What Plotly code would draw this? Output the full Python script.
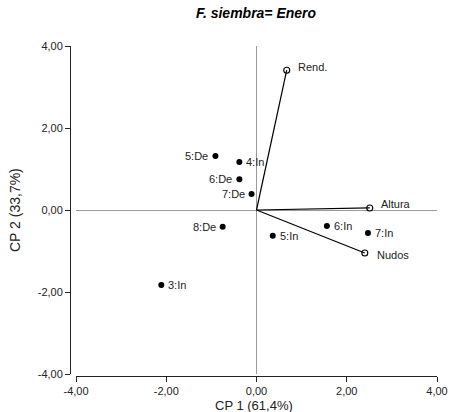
import plotly.graph_objects as go

# Observation scores (CP 1, CP 2)
obs_labels = ["3:In", "4:In", "5:In", "6:In", "7:In", "5:De", "6:De", "7:De", "8:De"]
obs_cp1 = [-2.11, -0.38, 0.36, 1.56, 2.47, -0.91, -0.38, -0.11, -0.75]
obs_cp2 = [-1.83, 1.17, -0.63, -0.39, -0.56, 1.32, 0.75, 0.39, -0.41]
obs_side = ["right", "right", "right", "right", "right", "left", "left", "left", "left"]

# Variable loadings (vector endpoints)
var_labels = ["Rend.", "Altura", "Nudos"]
var_cp1 = [0.67, 2.51, 2.40]
var_cp2 = [3.41, 0.05, -1.05]

tick_vals = [-4, -2, 0, 2, 4]
tick_text = ["-4,00", "-2,00", "0,00", "2,00", "4,00"]
FONT = "Liberation Sans, Arial"

fig = go.Figure()

# Vectors from the origin
for x, y in zip(var_cp1, var_cp2):
    fig.add_trace(go.Scatter(x=[0, x], y=[0, y], mode="lines",
                             line=dict(color="black", width=1.2),
                             hoverinfo="skip", showlegend=False))

fig.add_trace(go.Scatter(
    x=var_cp1, y=var_cp2, mode="markers",
    marker=dict(symbol="circle-open", size=6, color="black", line=dict(width=1.1)),
    hoverinfo="skip", showlegend=False))

fig.add_trace(go.Scatter(
    x=obs_cp1, y=obs_cp2, mode="markers",
    marker=dict(symbol="circle", size=6, color="black"),
    hoverinfo="skip", showlegend=False))

annotations = []
# Variable names beside the vector ends
var_shift = [(9, -3), (9, -4), (10, 2)]
for t, x, y, (dx, dy) in zip(var_labels, var_cp1, var_cp2, var_shift):
    annotations.append(dict(text=t, x=x, y=y, xref="x", yref="y", showarrow=False,
                            xanchor="left", yanchor="middle", xshift=dx, yshift=-dy,
                            font=dict(family=FONT, size=11, color="#222")))
# Observation names beside the dots
for t, x, y, s in zip(obs_labels, obs_cp1, obs_cp2, obs_side):
    annotations.append(dict(text=t, x=x, y=y, xref="x", yref="y", showarrow=False,
                            xanchor="left" if s == "right" else "right", yanchor="middle",
                            xshift=5 if s == "right" else -5,
                            font=dict(family=FONT, size=11, color="#222")))

axis_common = dict(
    range=[-4, 4], tickvals=tick_vals, ticktext=tick_text,
    showgrid=False, zeroline=True, zerolinecolor="#9a9a9a", zerolinewidth=1,
    showline=True, linecolor="#222", linewidth=1,
    ticks="outside", ticklen=5, tickcolor="#222", automargin=False,
    tickfont=dict(family=FONT, size=11, color="#222"),
)

annotations += [
    dict(text="CP 1 (61,4%)", xref="paper", yref="paper",
         x=(254 - 70) / 367, y=-(405 - 376) / 330, xanchor="center", yanchor="middle",
         showarrow=False, font=dict(family=FONT, size=13, color="#222")),
    dict(text="CP 2 (33,7%)", xref="paper", yref="paper", textangle=-90,
         x=-(70 - 15) / 367, y=(376 - 210) / 330, xanchor="center", yanchor="middle",
         showarrow=False, font=dict(family=FONT, size=14, color="#222")),
]

fig.update_layout(
    width=449, height=412,
    margin=dict(l=70, r=12, t=46, b=36),
    paper_bgcolor="white", plot_bgcolor="white",
    title=dict(text="<b><i>F. siembra= Enero</i></b>", x=256 / 449, xanchor="center",
               y=1 - 13 / 412, yanchor="middle",
               font=dict(family=FONT, size=14, color="black")),
    xaxis=dict(axis_common, domain=[6 / 367, 1], anchor="free", position=0),
    yaxis=dict(axis_common, domain=[2 / 330, 1], anchor="free", position=0),
    annotations=annotations,
)

fig.write_html("out.html")
